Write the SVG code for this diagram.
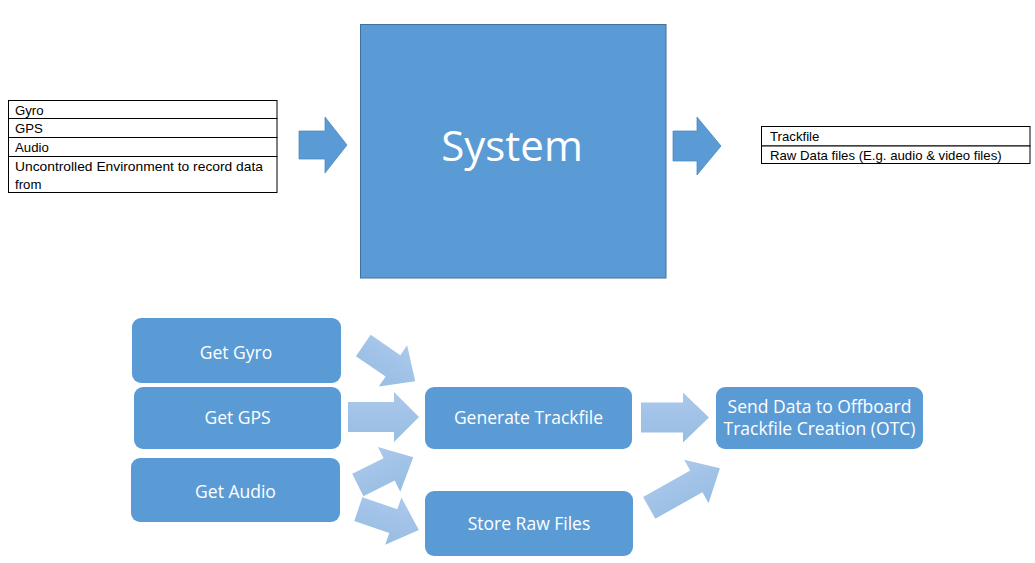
<svg xmlns="http://www.w3.org/2000/svg" width="1035" height="563" viewBox="0 0 1035 563">
  <defs>
    <linearGradient id="lg" x1="0" y1="0" x2="0" y2="1">
      <stop offset="0" stop-color="#AAC8EB"/>
      <stop offset="1" stop-color="#98BDE3"/>
    </linearGradient>
    <style>
      .cell { fill: #ffffff; stroke: #000000; stroke-width: 1; }
      .small { font-family: "Liberation Sans", Arial, sans-serif; font-size: 13.2px; fill: #000000; }
      .box { fill: #5B9BD5; }
      .sysbox { fill: #5B9BD5; stroke: #41719C; stroke-width: 1; }
      .blk { fill: #5B9BD5; stroke: #4A85BD; stroke-width: 0.75; }
      .lbl { font-family: "Open Sans", "Liberation Sans", sans-serif; font-size: 17.5px; fill: #ffffff; text-anchor: middle; }
      .sys { font-family: "Open Sans", "Liberation Sans", sans-serif; font-size: 42px; fill: #ffffff; text-anchor: middle; }
      .la { fill: url(#lg); }
    </style>
  </defs>
  <rect width="1035" height="563" fill="#ffffff"/>

  <g id="inputs">
    <rect class="cell" x="8.5" y="100.5" width="268.5" height="18"/>
    <rect class="cell" x="8.5" y="118.5" width="268.5" height="19"/>
    <rect class="cell" x="8.5" y="137.5" width="268.5" height="19"/>
    <rect class="cell" x="8.5" y="156.5" width="268.5" height="36"/>
    <text class="small" x="15" y="114.5">Gyro</text>
    <text class="small" x="15" y="133">GPS</text>
    <text class="small" x="15" y="151.5">Audio</text>
    <text class="small" x="15" y="171" textLength="248" lengthAdjust="spacingAndGlyphs">Uncontrolled Environment to record data</text>
    <text class="small" x="15" y="189">from</text>
  </g>

  <g id="system">
    <rect class="sysbox" x="360.5" y="24.5" width="305.5" height="253.5"/>
    <text class="sys" x="512" y="161">System</text>
  </g>

  <g id="outputs">
    <rect class="cell" x="761.5" y="126.5" width="268.5" height="19.5"/>
    <rect class="cell" x="761.5" y="146" width="268.5" height="17.5"/>
    <text class="small" x="770" y="140.5">Trackfile</text>
    <text class="small" x="770" y="160">Raw Data files (E.g. audio &amp; video files)</text>
  </g>

  <g id="get-gyro">
    <rect class="box" x="132" y="318" width="209" height="65" rx="9"/>
    <text class="lbl" x="236" y="358.5">Get Gyro</text>
  </g>
  <g id="get-gps">
    <rect class="box" x="134" y="387" width="207" height="62" rx="9"/>
    <text class="lbl" x="237.5" y="423.5">Get GPS</text>
  </g>
  <g id="get-audio">
    <rect class="box" x="131" y="458" width="209" height="64" rx="9"/>
    <text class="lbl" x="235.5" y="497.5">Get Audio</text>
  </g>
  <g id="generate-trackfile">
    <rect class="box" x="425" y="387" width="207" height="62" rx="9"/>
    <text class="lbl" x="528.5" y="423.5">Generate Trackfile</text>
  </g>
  <g id="store-raw-files">
    <rect class="box" x="425" y="491" width="208" height="65" rx="9"/>
    <text class="lbl" x="529" y="530">Store Raw Files</text>
  </g>
  <g id="send-data">
    <rect class="box" x="716" y="387" width="207" height="62" rx="9"/>
    <text class="lbl" x="819.5" y="412.5">Send Data to Offboard</text>
    <text class="lbl" x="819.5" y="434.5">Trackfile Creation (OTC)</text>
  </g>

  <g id="connectors">
    <polygon class="blk" points="299,131 325,131 325,117 347,145 325,173 325,159 299,159"/>
    <polygon class="blk" points="673,131 697,131 697,117 721,146 697,175 697,161 673,161"/>
    <polygon class="la" transform="translate(363.3,345.5) rotate(34.5)" points="0,-13 36,-13 36,-25 63,0 36,25 36,13 0,13"/>
    <polygon class="la" transform="translate(348,417)" points="0,-15 46,-15 46,-25 71,0 46,25 46,15 0,15"/>
    <polygon class="la" transform="translate(357.8,485) rotate(-26.5)" points="0,-12.5 35,-12.5 35,-25 62,0 35,25 35,12.5 0,12.5"/>
    <polygon class="la" transform="translate(358.3,509.2) rotate(18.9)" points="0,-12.5 37,-12.5 37,-25 64,0 37,25 37,12.5 0,12.5"/>
    <polygon class="la" transform="translate(641,417.5)" points="0,-15 42,-15 42,-25 68,0 42,25 42,15 0,15"/>
    <polygon class="la" transform="translate(649.2,507.8) rotate(-29.2)" points="0,-12.5 54,-12.5 54,-25 81,0 54,25 54,12.5 0,12.5"/>
  </g>
</svg>
